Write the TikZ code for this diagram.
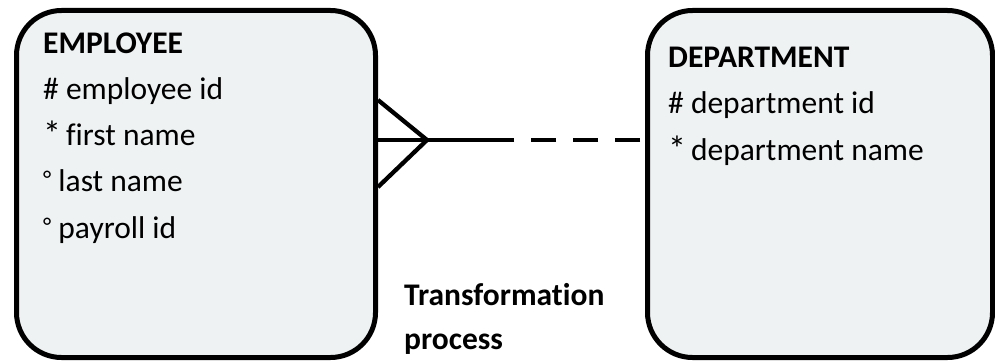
\documentclass[tikz,border=0pt]{standalone}
\usepackage{fontspec}
\setmainfont{Carlito}[Ligatures=NoCommon]
\usepackage{xcolor}
\usetikzlibrary{positioning,calc}
\definecolor{entfill}{HTML}{EEF2F3}
\newcommand{\optmark}{{\fontsize{24}{24}\selectfont\raisebox{4pt}{°}}}
\newcommand{\reqmark}{{\fontsize{36}{36}\selectfont\raisebox{-1pt}{*}}\hspace{5pt}}

\begin{document}
\begin{tikzpicture}[x=1pt,y=-1pt,
    entity/.style={draw,line width=5pt,fill=entfill,rounded corners=45pt,inner sep=0pt},
    attr/.style={anchor=base west,inner sep=0pt,font=\fontsize{31.5}{38}\selectfont},
    rel/.style={line width=4.3pt}]
  \useasboundingbox (0,0) rectangle (995,361);
  \node[entity,minimum width=359pt,minimum height=347pt] (emp) at (196,184) {};
  \node[entity,minimum width=345pt,minimum height=347pt] (dept) at (820,184) {};
  \foreach \txt [count=\i] in {{\bfseries EMPLOYEE},{\# employee id},{\reqmark first name},
      {\optmark\ last name},{\optmark\ payroll id}} {
    \node[attr] (emp-\i) at (43,{53+46.3*(\i-1)}) {\txt};
  }
  \foreach \txt [count=\i] in {{\bfseries DEPARTMENT},{\# department id},{\reqmark department name}} {
    \node[attr] (dept-\i) at (668,{67+46.5*(\i-1)}) {\txt};
  }
  % crow's foot + relationship line
  \coordinate (foot) at (427,140);
  \coordinate (half) at (508,140);
  \draw[rel] ($(emp.east)+(0,-84)$) -- (foot) -- ($(emp.east)+(0,3)$);
  \draw[rel] (emp.east |- foot) -- (half);
  \draw[rel,dash pattern=on 25pt off 17pt,dash phase=37pt] (dept.west |- foot) -- (half);
  \node[attr,font=\fontsize{31.5}{38}\selectfont\bfseries] (tr-1) at (404,305) {Transformation};
  \node[attr,font=\fontsize{31.5}{38}\selectfont\bfseries] (tr-2) at (404,349) {process};
\end{tikzpicture}
\end{document}
